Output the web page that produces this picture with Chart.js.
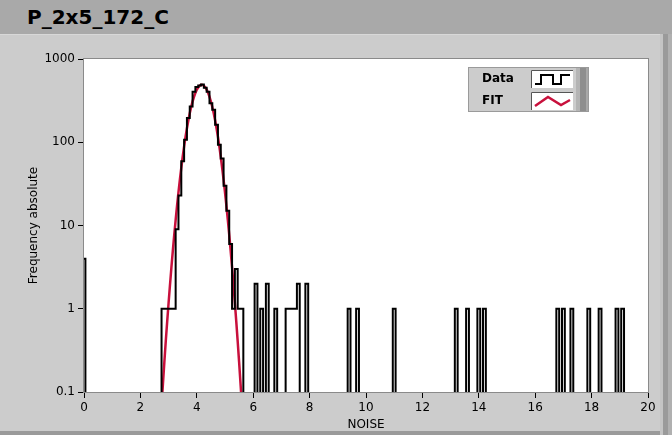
<!DOCTYPE html>
<html>
<head>
<meta charset="utf-8">
<script src="https://cdn.jsdelivr.net/npm/chart.js@4.4.1/dist/chart.umd.min.js"></script>
<style>
html, body { margin: 0; padding: 0; }
body { width: 672px; height: 435px; background: #a9a9a9; position: relative; overflow: hidden; font-family: "DejaVu Sans", sans-serif; }
#title { position: absolute; left: 27px; top: 5px; font: bold 20px "DejaVu Sans", sans-serif; color: #000; }
#panel { position: absolute; left: 0; top: 34px; width: 660px; height: 396px; background: #cccccc; border-top: 1px solid #d8d8d8; }
#edge { position: absolute; left: 660px; top: 34px; width: 12px; height: 401px; background: linear-gradient(to right, #c4c4c4 0, #c4c4c4 3px, #9a9a9a 3px, #9a9a9a 8px, #b0b0b0 8px); }
#foot { position: absolute; left: 0; top: 431px; width: 660px; height: 4px; background: #9a9a9a; }
#myChart { position: absolute; left: 0; top: 0; }
</style>
</head>
<body>
<div id="title">P_2x5_172_C</div>
<div id="panel"></div>
<div id="edge"></div>
<div id="foot"></div>
<canvas id="myChart" width="672" height="435"></canvas>
<script>
'use strict';

// histogram (bin centres, 0.1 wide) and counts
const binCenters = [0.0,
    2.8, 2.9, 3.0, 3.1, 3.2, 3.3, 3.4, 3.5, 3.6, 3.7, 3.8, 3.9, 4.0, 4.1, 4.2,
    4.3, 4.4, 4.5, 4.6, 4.7, 4.8, 4.9, 5.0, 5.1, 5.2, 5.3, 5.4, 5.5, 5.6,
    6.1, 6.3, 6.5, 6.8, 7.2, 7.3, 7.4, 7.5, 7.6, 7.9,
    9.4, 9.7, 11.0, 13.2, 13.6, 14.0, 14.2, 16.8, 17.0, 17.3, 17.9, 18.3, 18.9, 19.1];
const binCounts = [4,
    1, 1, 1, 1, 1, 9, 23, 59, 107, 196, 268, 405, 460, 480, 495,
    450, 405, 294, 246, 162, 93, 64, 30, 15, 6, 1, 3, 1, 1,
    2, 1, 2, 1, 1, 1, 1, 1, 2, 2,
    1, 1, 1, 1, 1, 1, 1, 1, 1, 1, 1, 1, 1, 1];

// fit curve
const fitNoise = [2.75, 2.8, 2.9, 3.0, 3.1, 3.2, 3.3, 3.4, 3.5, 3.6, 3.7, 3.8, 3.9, 4.0, 4.1, 4.2,
    4.3, 4.4, 4.5, 4.6, 4.7, 4.8, 4.9, 5.0, 5.1, 5.2, 5.3, 5.4, 5.5, 5.6];
const fitFreq = [0.069, 0.127, 0.41, 1.18, 3.15, 7.7, 17.3, 35.6, 67, 116, 183, 265, 352, 429, 478, 489,
    457, 393, 309, 223, 147, 89, 49, 25, 11.7, 5.0, 1.95, 0.70, 0.23, 0.069];

const xTicks = [0, 2, 4, 6, 8, 10, 12, 14, 16, 18, 20];
const yTicks = [0.1, 1, 10, 100, 1000];
const yTickLabels = ['0.1', '1', '10', '100', '1000'];
const legendLabels = ['Data', 'FIT'];

const BIN = 0.1;
const FLOOR = 0.01;
const FONT = '"DejaVu Sans", sans-serif';

// step outline of the histogram
const stepPts = [];
let prevRight = null;
binCenters.forEach(function (c, i) {
    const l = +(c - BIN / 2).toFixed(3);
    const r = +(c + BIN / 2).toFixed(3);
    if (prevRight === null || Math.abs(prevRight - l) > 1e-6) {
        if (prevRight !== null) stepPts.push({ x: prevRight, y: FLOOR });
        stepPts.push({ x: l, y: FLOOR });
    }
    stepPts.push({ x: l, y: binCounts[i] }, { x: r, y: binCounts[i] });
    prevRight = r;
});
stepPts.push({ x: prevRight, y: FLOOR });

const fitPts = fitNoise.map((x, i) => ({ x: x, y: fitFreq[i] }));

const plotFrame = {
    id: 'plotFrame',
    beforeDatasetsDraw(chart) {
        const a = chart.chartArea, ctx = chart.ctx;
        ctx.save();
        ctx.fillStyle = '#ffffff';
        ctx.fillRect(a.left, a.top, a.right - a.left, a.bottom - a.top);
        ctx.restore();
    },
    afterDraw(chart) {
        const a = chart.chartArea, ctx = chart.ctx;
        ctx.save();
        ctx.strokeStyle = '#8a8a8a';
        ctx.lineWidth = 1;
        ctx.strokeRect(a.left - 0.5, a.top - 0.5, a.right - a.left + 1, a.bottom - a.top + 1);

        // legend box
        const lx = 468, ly = 67, lw = 121, lh = 45;
        ctx.fillStyle = '#cccccc';
        ctx.fillRect(lx, ly, lw, lh);
        ctx.fillStyle = '#b4b4b4';
        ctx.fillRect(lx + lw - 13, ly, 4, lh);
        ctx.fillStyle = '#8e8e8e';
        ctx.fillRect(lx + lw - 9, ly, 6, lh);
        ctx.fillStyle = '#a8a8a8';
        ctx.fillRect(lx + lw - 3, ly, 3, lh);
        ctx.strokeStyle = '#9a9a9a';
        ctx.strokeRect(lx + 0.5, ly + 0.5, lw - 1, lh - 1);

        ctx.font = 'bold 12px ' + FONT;
        ctx.fillStyle = '#000';
        ctx.textBaseline = 'middle';
        ctx.textAlign = 'left';
        legendLabels.forEach(function (t, i) {
            const cy = ly + 12 + i * 22;
            ctx.fillText(t, lx + 14, cy);
            const bx = lx + 63, by = cy - 9, bw = 42, bh = 18;
            ctx.fillStyle = '#ffffff';
            ctx.fillRect(bx, by, bw, bh);
            ctx.strokeStyle = '#555';
            ctx.beginPath();
            ctx.moveTo(bx + 0.5, by + bh); ctx.lineTo(bx + 0.5, by + 0.5); ctx.lineTo(bx + bw, by + 0.5);
            ctx.stroke();
            ctx.lineWidth = 2;
            ctx.beginPath();
            if (i === 0) {
                ctx.strokeStyle = '#000';
                ctx.moveTo(bx + 4, by + 14); ctx.lineTo(bx + 10, by + 14); ctx.lineTo(bx + 10, by + 5);
                ctx.lineTo(bx + 22, by + 5); ctx.lineTo(bx + 22, by + 14); ctx.lineTo(bx + 30, by + 14);
                ctx.lineTo(bx + 30, by + 5); ctx.lineTo(bx + 39, by + 5);
            } else {
                ctx.strokeStyle = '#c8103c';
                ctx.lineWidth = 2.5;
                ctx.moveTo(bx + 4, by + 14); ctx.lineTo(bx + 17, by + 5);
                ctx.lineTo(bx + 30, by + 13); ctx.lineTo(bx + 39, by + 8);
            }
            ctx.stroke();
            ctx.lineWidth = 1;
            ctx.fillStyle = '#000';
        });
        ctx.restore();
    }
};

document.addEventListener('DOMContentLoaded', function () {
    const ctx = document.getElementById('myChart').getContext('2d');
    new Chart(ctx, {
        type: 'line',
        data: {
            datasets: [{
                label: legendLabels[0],
                data: stepPts,
                borderColor: '#000000',
                borderWidth: 2,
                borderJoinStyle: 'miter',
                pointRadius: 0,
                tension: 0,
                fill: false
            }, {
                label: legendLabels[1],
                data: fitPts,
                borderColor: '#c8103c',
                borderWidth: 2.5,
                pointRadius: 0,
                tension: 0.3,
                fill: false
            }]
        },
        options: {
            responsive: false,
            animation: false,
            layout: { padding: { left: 22, top: 59, right: 24, bottom: 2 } },
            plugins: { legend: { display: false }, tooltip: { enabled: false } },
            scales: {
                x: {
                    type: 'linear',
                    min: 0,
                    max: 20,
                    afterBuildTicks: s => { s.ticks = xTicks.map(v => ({ value: v })); },
                    afterFit: s => { s.height = 41; },
                    ticks: { color: '#000', font: { family: FONT, size: 12 }, padding: 3, maxRotation: 0, autoSkip: false },
                    grid: { drawOnChartArea: false, drawTicks: true, tickLength: 6, color: '#000' },
                    border: { display: false },
                    title: { display: true, text: 'NOISE', color: '#000', font: { family: FONT, size: 12 }, padding: { top: 0, bottom: 1 } }
                },
                y: {
                    type: 'logarithmic',
                    min: 0.1,
                    max: 1000,
                    afterBuildTicks: s => { s.ticks = yTicks.map(v => ({ value: v })); },
                    afterFit: s => { s.width = 62; },
                    ticks: { color: '#000', font: { family: FONT, size: 12 }, padding: 3, autoSkip: false, callback: (v, i) => yTickLabels[i] },
                    grid: { drawOnChartArea: false, drawTicks: true, tickLength: 6, color: '#000' },
                    border: { display: false },
                    title: { display: true, text: 'Frequency absolute', color: '#000', font: { family: FONT, size: 12 }, padding: { top: 5, bottom: 0 } }
                }
            }
        },
        plugins: [plotFrame]
    });
});
</script>
</body>
</html>
